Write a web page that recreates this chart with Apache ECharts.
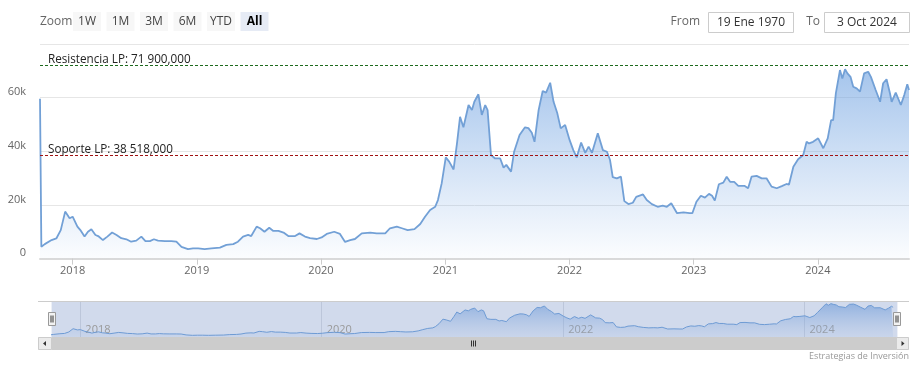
<!DOCTYPE html>
<html>
<head>
<meta charset="utf-8">
<script src="https://cdn.jsdelivr.net/npm/echarts@6/dist/echarts.min.js"></script>
<style>
html,body{margin:0;padding:0;background:#fff;}
#chart{width:920px;height:369px;}
</style>
</head>
<body>
<div id="chart"></div>
<script>
// ---- data ----
const dates = [
'2017-09-27','2017-10-01','2017-10-11','2017-10-31','2017-11-14','2017-11-27','2017-12-10','2017-12-23','2018-01-01',
'2018-01-15','2018-01-25','2018-02-05','2018-02-15','2018-02-25','2018-03-09','2018-03-17','2018-03-31','2018-04-13','2018-04-27','2018-05-10','2018-05-24','2018-06-08','2018-06-22','2018-07-07','2018-07-22','2018-08-03','2018-08-16','2018-08-28','2018-09-09','2018-09-29','2018-10-18','2018-11-02','2018-11-17','2018-12-06','2018-12-21',
'2019-01-05','2019-01-24','2019-02-13','2019-03-10','2019-03-29','2019-04-18','2019-05-02','2019-05-17','2019-06-01','2019-06-10','2019-06-26','2019-07-06','2019-07-19','2019-08-02','2019-08-14','2019-08-29','2019-09-13','2019-09-27','2019-10-17','2019-10-30','2019-11-15','2019-11-30','2019-12-20',
'2020-01-03','2020-01-18','2020-02-09','2020-02-26','2020-03-12','2020-03-27','2020-04-10','2020-04-30','2020-05-25','2020-06-13','2020-07-08','2020-07-22','2020-08-11','2020-08-26','2020-09-12','2020-10-02','2020-10-19','2020-11-02','2020-11-17','2020-12-02','2020-12-10','2020-12-21',
'2021-01-02','2021-01-12','2021-01-25','2021-02-04','2021-02-13','2021-02-23','2021-03-10','2021-03-20','2021-03-27','2021-04-08','2021-04-18','2021-04-28','2021-05-05','2021-05-15','2021-05-27','2021-06-11','2021-06-21','2021-06-29','2021-07-13','2021-07-22','2021-08-07','2021-08-23','2021-09-02','2021-09-12','2021-09-20','2021-10-02','2021-10-14','2021-10-24','2021-11-05','2021-11-15','2021-11-26','2021-12-06','2021-12-19',
'2022-01-01','2022-01-12','2022-01-22','2022-02-04','2022-02-16','2022-02-26','2022-03-08','2022-03-25','2022-04-09','2022-04-21','2022-04-30','2022-05-08','2022-05-20','2022-06-01','2022-06-11','2022-06-23','2022-07-06','2022-07-16','2022-08-05','2022-08-16','2022-08-31','2022-09-17','2022-10-02','2022-10-14','2022-10-27','2022-11-13','2022-12-02','2022-12-20','2022-12-28',
'2023-01-09','2023-01-22','2023-02-03','2023-02-15','2023-02-24','2023-03-04','2023-03-16','2023-03-29','2023-04-08','2023-04-18','2023-04-30','2023-05-12','2023-05-30','2023-06-10','2023-06-20','2023-07-05','2023-07-20','2023-08-03','2023-08-18','2023-09-02','2023-09-17','2023-10-01','2023-10-08','2023-10-21','2023-11-04','2023-11-19','2023-11-29','2023-12-06','2023-12-18',
'2024-01-02','2024-01-17','2024-01-30','2024-02-09','2024-02-15','2024-02-23','2024-03-06','2024-03-13','2024-03-21','2024-03-28','2024-04-06','2024-04-14','2024-04-24','2024-05-04','2024-05-16','2024-05-28','2024-06-05','2024-06-19','2024-07-02','2024-07-11','2024-07-21','2024-07-31','2024-08-05','2024-08-17','2024-09-01','2024-09-11','2024-09-20','2024-09-25'
];
const prices = [
59500,4400,5400,6900,7500,10600,17500,15000,15600,
11900,10400,8200,10000,10900,8800,8400,6900,8200,9700,8800,7600,7200,6300,6700,8200,6500,6500,7200,6700,6500,6500,6300,4400,3500,3800,
3800,3500,3800,4100,5100,5400,6300,8200,8800,8400,11900,11300,10000,11500,10300,10300,9700,8400,8400,9400,8200,7600,7300,
7900,9200,10000,9200,6200,6900,7300,9400,9700,9400,9400,11300,11900,11300,10600,11000,12900,15600,18100,19300,21800,28000,
37700,36100,33200,42900,52800,48900,57200,55300,58400,61200,53500,57200,55300,38600,37300,37300,33900,34900,32400,39800,46000,48900,48600,46900,43500,55300,62400,61800,65500,58400,54100,48500,49800,
44200,40400,37700,43200,39400,41700,39400,46700,40400,39800,36700,30300,29900,30500,21400,20300,20800,23000,23900,21800,20300,19300,19700,19300,20600,16900,17200,16900,16900,
21200,23400,22700,24100,23400,21600,27700,28300,30500,28600,28600,27100,27100,26200,30500,30800,29900,29900,26800,26200,27000,27800,27500,34200,37000,38600,43500,42900,43500,
44800,41100,44800,51600,51600,61600,70200,67100,70500,69000,67700,64000,63400,62200,69000,69600,67700,62800,58400,65300,66800,61600,58400,61800,57200,60900,64900,62800
];
const levelNames = ['Resistencia LP', 'Soporte LP'];
const levelValues = [71900, 38518];
const levelColors = ['#1e6a1e', '#a01212'];
const mainYearTicks = [2018, 2019, 2020, 2021, 2022, 2023, 2024];
const navYearTicks = [2018, 2020, 2022, 2024];
const navRange = ['2017-10-06', '2024-10-08'];
const yTicks = [0, 20000, 40000, 60000, 80000];
const zoomButtons = ['1W', '1M', '3M', '6M', 'YTD', 'All'];
const fromText = '19 Ene 1970';
const toText = '3 Oct 2024';
const creditText = 'Estrategias de Inversión';

// ---- helpers ----
const FONT = '"Open Sans", "Noto Sans", sans-serif';
const ts = s => { const p = s.split('-').map(Number); return new Date(p[0], p[1] - 1, p[2]).getTime(); };
const yearTs = y => new Date(y, 0, 1).getTime();
const seriesData = dates.map((d, i) => [ts(d), prices[i]]);
function fmtLevel(v) {
  const s = String(Math.round(v)).replace(/\B(?=(\d{3})+(?!\d))/g, ' ');
  return s + ',000';
}
const yearLabel = v => String(new Date(v).getFullYear());

const chart = echarts.init(document.getElementById('chart'), null, {renderer: 'canvas'});

// range selector + navigator decorations
const gfx = [];
gfx.push({type: 'text', style: {text: 'Zoom', x: 40, y: 22, fill: '#666', font: '12px ' + FONT, verticalAlign: 'middle'}});
zoomButtons.forEach((b, i) => {
  const x = 73 + i * 33.5;
  const sel = b === 'All';
  gfx.push({type: 'rect', shape: {x: x, y: 12, width: 28, height: 19, r: 0}, style: {fill: sel ? '#e6ebf5' : '#f7f7f7'}});
  gfx.push({type: 'text', style: {text: b, x: x + 14, y: 22, fill: sel ? '#000' : '#444', font: (sel ? 'bold ' : '') + '12px ' + FONT, align: 'center', verticalAlign: 'middle'}});
});
gfx.push({type: 'text', style: {text: 'From', x: 700, y: 22, fill: '#666', font: '12px ' + FONT, align: 'right', verticalAlign: 'middle'}});
gfx.push({type: 'rect', shape: {x: 708.5, y: 12.5, width: 85, height: 20}, style: {fill: '#fff', stroke: '#cccccc', lineWidth: 1}});
gfx.push({type: 'text', style: {text: fromText, x: 751, y: 22.5, fill: '#333', font: '12px ' + FONT, align: 'center', verticalAlign: 'middle'}});
gfx.push({type: 'text', style: {text: 'To', x: 820, y: 22, fill: '#666', font: '12px ' + FONT, align: 'right', verticalAlign: 'middle'}});
gfx.push({type: 'rect', shape: {x: 824.5, y: 12.5, width: 85, height: 20}, style: {fill: '#fff', stroke: '#cccccc', lineWidth: 1}});
gfx.push({type: 'text', style: {text: toText, x: 867, y: 22.5, fill: '#333', font: '12px ' + FONT, align: 'center', verticalAlign: 'middle'}});
// navigator outline
gfx.push({type: 'line', shape: {x1: 38, y1: 301.5, x2: 909, y2: 301.5}, style: {stroke: '#cccccc', lineWidth: 1}, z: 10});
// scrollbar
gfx.push({type: 'rect', shape: {x: 38, y: 337, width: 871, height: 13}, style: {fill: '#f2f2f2'}, z: 10});
gfx.push({type: 'rect', shape: {x: 51.6, y: 337, width: 845.8, height: 13}, style: {fill: '#cccccc'}, z: 10});
gfx.push({type: 'rect', shape: {x: 38.5, y: 337.5, width: 13, height: 12}, style: {fill: '#ebebeb', stroke: '#cccccc'}, z: 11});
gfx.push({type: 'rect', shape: {x: 896.5, y: 337.5, width: 12, height: 12}, style: {fill: '#ebebeb', stroke: '#cccccc'}, z: 11});
gfx.push({type: 'polygon', shape: {points: [[43, 343.5], [46, 341], [46, 346]]}, style: {fill: '#333'}, z: 12});
gfx.push({type: 'polygon', shape: {points: [[904.5, 343.5], [901.5, 341], [901.5, 346]]}, style: {fill: '#333'}, z: 12});
[471.5, 473.5, 475.5].forEach(x => gfx.push({type: 'line', shape: {x1: x, y1: 340.5, x2: x, y2: 346.5}, style: {stroke: '#333', lineWidth: 1}, z: 12}));
// navigator handles
[48.5, 893.5].forEach(x => {
  gfx.push({type: 'rect', shape: {x: x, y: 312.5, width: 7, height: 13}, style: {fill: '#f2f2f2', stroke: '#999', lineWidth: 1}, z: 12});
  gfx.push({type: 'line', shape: {x1: x + 2.5, y1: 315.5, x2: x + 2.5, y2: 322.5}, style: {stroke: '#333', lineWidth: 1}, z: 13});
  gfx.push({type: 'line', shape: {x1: x + 4.5, y1: 315.5, x2: x + 4.5, y2: 322.5}, style: {stroke: '#333', lineWidth: 1}, z: 13});
});
gfx.push({type: 'text', style: {text: creditText, x: 909, y: 356, fill: '#999', font: '9px ' + FONT, align: 'right', verticalAlign: 'middle'}});

const option = {
  animation: false,
  backgroundColor: '#fff',
  textStyle: {fontFamily: FONT},
  grid: [
    {left: 40, right: 11, top: 43.8, height: 214.8, containLabel: false},
    {left: 51.6, right: 22.6, top: 301.5, height: 35.5, show: true, backgroundColor: '#d1daec', borderWidth: 0}
  ],
  xAxis: [
    {
      type: 'value', gridIndex: 0,
      min: ts(dates[0]), max: ts(dates[dates.length - 1]),
      axisLine: {show: true, lineStyle: {color: '#dadada', width: 2}},
      axisTick: {show: true, length: 6, lineStyle: {color: '#cccccc'}, customValues: mainYearTicks.map(yearTs)},
      axisLabel: {color: '#666', fontSize: 11, margin: 7, fontFamily: FONT,
        customValues: mainYearTicks.map(yearTs), formatter: yearLabel},
      splitLine: {show: false}
    },
    {
      type: 'value', gridIndex: 1,
      min: ts(navRange[0]), max: ts(navRange[1]),
      axisLine: {show: false},
      axisTick: {show: false, customValues: navYearTicks.map(yearTs)},
      axisLabel: {inside: true, color: '#999', fontSize: 11, margin: 2, align: 'left', padding: [0, 0, 0, 5], verticalAlign: 'bottom', fontFamily: FONT,
        customValues: navYearTicks.map(yearTs), formatter: yearLabel},
      splitLine: {show: true, lineStyle: {color: '#bcc6da', width: 1}}
    }
  ],
  yAxis: [
    {
      type: 'value', gridIndex: 0, min: yTicks[0], max: yTicks[yTicks.length - 1], interval: 20000,
      axisLine: {show: false}, axisTick: {show: false},
      axisLabel: {color: '#666', fontSize: 11, margin: 14, verticalAlign: 'bottom', showMaxLabel: false, fontFamily: FONT,
        formatter: v => v === 0 ? '0' : (v / 1000) + 'k'},
      splitLine: {show: true, lineStyle: {color: '#e6e6e6', width: 1}}
    },
    {
      type: 'value', gridIndex: 1, min: 0, max: 75000, show: false, splitLine: {show: false}
    }
  ],
  series: [
    {
      type: 'line', xAxisIndex: 0, yAxisIndex: 0, data: seriesData,
      symbol: 'none', smooth: false, silent: true,
      lineStyle: {color: '#72a0d6', width: 1.8},
      areaStyle: {color: {type: 'linear', x: 0, y: 43.8, x2: 0, y2: 258.6, global: true,
        colorStops: [{offset: 0, color: 'rgba(108,160,224,1)'}, {offset: 1, color: 'rgba(124,170,228,0.04)'}]}},
      markLine: {
        silent: true, symbol: ['none', 'none'], animation: false,
        data: levelValues.map((v, i) => ({
          yAxis: v,
          lineStyle: {color: levelColors[i], type: [3, 2], width: 1},
          label: {show: true, position: 'insideStartTop', distance: [8, 0], color: '#222', fontSize: 11.7, fontFamily: FONT,
            formatter: levelNames[i] + ': ' + fmtLevel(v)}
        }))
      }
    },
    {
      type: 'line', xAxisIndex: 1, yAxisIndex: 1, data: seriesData,
      symbol: 'none', silent: true,
      lineStyle: {color: '#6e9bd4', width: 1},
      areaStyle: {color: {type: 'linear', x: 0, y: 301.5, x2: 0, y2: 337, global: true,
        colorStops: [{offset: 0, color: 'rgba(96,146,214,0.85)'}, {offset: 1, color: 'rgba(150,180,225,0.2)'}]}}
    }
  ],
  graphic: {elements: gfx}
};
chart.setOption(option);
</script>
</body>
</html>
